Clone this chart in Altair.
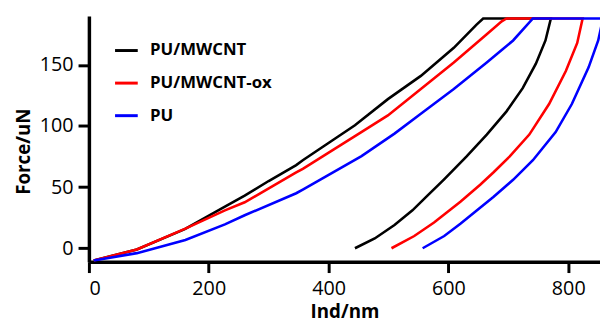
import altair as alt
import pandas as pd

series_names = ["PU/MWCNT", "PU/MWCNT-ox", "PU"]
series_colors = ["#000000", "#ff0000", "#0000ff"]

# loading -> hold -> unloading, in path order
black_x = [8, 80, 160, 227, 260, 300, 346, 357, 444, 455, 499, 554, 609, 647, 658,
           771, 762, 746, 724, 697, 664, 630, 592, 565, 540, 510, 477, 444]
black_y = [-10, -1, 15.6, 34, 43, 55, 68, 72, 100.6, 105, 122, 141, 164, 183, 188,
           188, 170, 151, 131, 112, 93, 75, 56, 43, 31, 19, 8, 0]

red_x = [8, 80, 161, 227, 260, 346, 357, 458, 499, 554, 609, 664, 689, 697,
         824, 815, 796, 768, 735, 702, 675, 653, 620, 576, 543, 505]
red_y = [-10, -1, 16, 31, 37.6, 62, 65, 96, 108.7, 130.3, 152, 175, 185.7, 188,
         188, 168, 145, 118, 93, 75, 62, 52, 38, 21, 10, 0]

blue_x = [8, 80, 161, 227, 260, 346, 357, 455, 510, 554, 609, 664, 691, 708, 741,
          858, 850, 834, 806, 779, 741, 708, 675, 620, 593, 557]
blue_y = [-10, -4, 6.7, 19.5, 27, 45, 48, 75.4, 93.8, 110, 130.3, 152, 163, 170, 188,
          188, 170, 148, 118, 95, 72, 56, 42, 20, 10, 0]

x_ticks = [0, 200, 400, 600, 800]
y_ticks = [0, 50, 100, 150]

rows = []
for name, xs, ys in zip(series_names, [black_x, red_x, blue_x], [black_y, red_y, blue_y]):
    for i, (x, y) in enumerate(zip(xs, ys)):
        rows.append({"series": name, "idx": i, "ind": x, "force": y})
df = pd.DataFrame(rows)

chart = alt.Chart(df).mark_line(strokeWidth=2.6, clip=True).encode(
    x=alt.X("ind:Q", scale=alt.Scale(domain=[0, 853], nice=False, zero=False),
            axis=alt.Axis(title="Ind/nm", values=x_ticks, labelPadding=6, titlePadding=5)),
    y=alt.Y("force:Q", scale=alt.Scale(domain=[-11, 190], nice=False, zero=False),
            axis=alt.Axis(title="Force/uN", values=y_ticks, titlePadding=6, titleY=137)),
    color=alt.Color("series:N",
                    scale=alt.Scale(domain=series_names, range=series_colors),
                    sort=series_names,
                    legend=alt.Legend(title=None, orient="none", legendX=25, legendY=22,
                                      symbolType="stroke", symbolSize=529,
                                      symbolStrokeWidth=3, labelOffset=11,
                                      rowPadding=12, padding=0)),
    order=alt.Order("idx:Q"),
    detail="series:N",
).properties(
    width=518, height=249,
    autosize=alt.AutoSizeParams(type="none"),
    padding={"left": 82, "top": 6, "right": 0, "bottom": 59},
).configure_view(
    stroke=None
).configure_axis(
    grid=False,
    domainColor="#000000", domainWidth=3.5,
    tickColor="#000000", tickWidth=3, tickSize=11,
    labelFont="Open Sans", labelFontSize=20, labelColor="#000000", labelPadding=5,
    titleFont="Open Sans", titleFontSize=19, titleFontWeight="bold", titleColor="#000000",
).configure_legend(
    labelFont="Open Sans", labelFontSize=17, labelFontWeight="bold", labelColor="#000000",
)

chart.save("out.html", embed_options={"renderer": "svg", "actions": False})
